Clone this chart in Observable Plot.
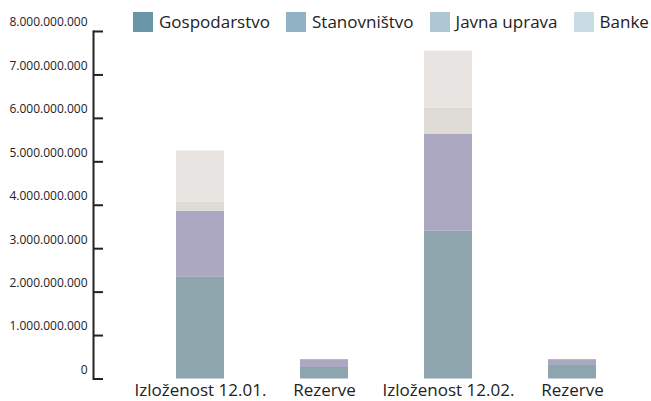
<!DOCTYPE html>
<html>
<head>
<meta charset="utf-8">
<script src="https://cdn.jsdelivr.net/npm/d3@7"></script>
<script src="https://cdn.jsdelivr.net/npm/@observablehq/plot@0.6"></script>
<style>
  html, body { margin: 0; padding: 0; background: #fff; }
  #wrap { position: relative; width: 651px; height: 401px; font-family: "Open Sans", sans-serif; }
  #legend { position: absolute; left: 133px; top: 10px; display: flex; align-items: center; gap: 16px; font-size: 17px; color: #222; }
  .item { display: flex; align-items: center; gap: 6px; }
  .sw { width: 20px; height: 20px; display: inline-block; }
</style>
</head>
<body>
<div id="wrap"><div id="legend"></div></div>
<script>
const categories = ["Izloženost 12.01.", "Rezerve 12.01.", "Izloženost 12.02.", "Rezerve 12.02."];
const categoryLabels = ["Izloženost 12.01.", "Rezerve", "Izloženost 12.02.", "Rezerve"];
const series = ["Gospodarstvo", "Stanovništvo", "Javna uprava", "Banke"];
// values in billions
const gospodarstvo = [2.34, 0.265, 3.40, 0.33];
const stanovnistvo = [1.52, 0.18, 2.24, 0.115];
const javnaUprava = [0.21, 0, 0.60, 0];
const banke = [1.18, 0, 1.31, 0];
const yTicks = [0, 1, 2, 3, 4, 5, 6, 7, 8];
const barColors = ["#8fa5ae", "#ada8c2", "#dedad6", "#e8e4e1"];
const legendColors = ["#6b95a9", "#90b2c4", "#adc7d4", "#c8dce4"];

const seriesValues = [gospodarstvo, stanovnistvo, javnaUprava, banke];
const data = [];
series.forEach((s, si) => categories.forEach((c, ci) => data.push({category: c, series: s, value: seriesValues[si][ci]})));

const labelOf = new Map(categories.map((c, i) => [c, categoryLabels[i]]));
const fmt = d => d3.format(",")(d * 1e9).replace(/,/g, ".");

const chart = Plot.plot({
  width: 651,
  height: 401,
  marginLeft: 93,
  marginRight: 30,
  marginTop: 31,
  marginBottom: 22.5,
  style: {fontFamily: "Open Sans, sans-serif", color: "#222", background: "transparent"},
  x: {domain: categories, paddingInner: 0.613, paddingOuter: 0.4355, align: 0.769, label: null},
  y: {domain: [0, 8], label: null},
  color: {domain: series, range: barColors},
  marks: [
    Plot.barY(data, {x: "category", y: "value", fill: "series", z: "series", inset: 0}),
    Plot.axisY({ticks: yTicks, tickSize: -10, tickFormat: () => "", stroke: "#222", strokeWidth: 2, label: null}),
    Plot.axisY({ticks: yTicks, tickSize: 0, tickPadding: 6, tickFormat: fmt, dy: -9, fontSize: 12, label: null}),
    Plot.frame({anchor: "left", stroke: "#222", strokeWidth: 2}),
    Plot.axisX({tickSize: 0, tickPadding: 5, tickFormat: d => labelOf.get(d), fontSize: 17, label: null})
  ]
});
document.getElementById("wrap").prepend(chart);

const legend = document.getElementById("legend");
series.forEach((s, i) => {
  const it = document.createElement("div");
  it.className = "item";
  const sw = document.createElement("span");
  sw.className = "sw";
  sw.style.background = legendColors[i];
  const tx = document.createElement("span");
  tx.textContent = s;
  it.append(sw, tx);
  legend.append(it);
});
</script>
</body>
</html>
